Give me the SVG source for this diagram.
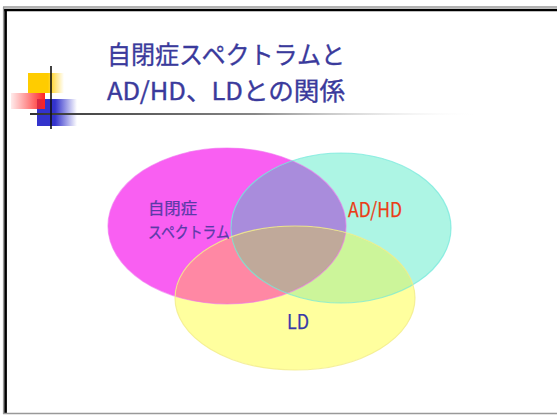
<svg xmlns="http://www.w3.org/2000/svg" width="557" height="415" viewBox="0 0 557 415">
  <style>
    .title { font-family: "Noto Sans CJK JP", "Noto Sans", sans-serif; font-size: 24.5px; fill: #3a3a9c; stroke: #3a3a9c; stroke-width: 0.35; }
    .lbl { font-family: "Noto Sans CJK JP", "Noto Sans", sans-serif; stroke-width: 0.25; }
    .edge { fill: none; stroke-width: 1.2; }
  </style>
  <defs>
    <linearGradient id="gYellow" x1="0" y1="0" x2="1" y2="0">
      <stop offset="0" stop-color="#ffcc00"/>
      <stop offset="0.55" stop-color="#ffcc00"/>
      <stop offset="1" stop-color="#ffcc00" stop-opacity="0"/>
    </linearGradient>
    <linearGradient id="gRed" x1="0" y1="0" x2="1" y2="0">
      <stop offset="0" stop-color="#ff3333" stop-opacity="0.1"/>
      <stop offset="1" stop-color="#ff2222"/>
    </linearGradient>
    <linearGradient id="gBlue" x1="0" y1="0" x2="1" y2="0">
      <stop offset="0" stop-color="#3333cc"/>
      <stop offset="0.45" stop-color="#3333cc"/>
      <stop offset="1" stop-color="#3333cc" stop-opacity="0"/>
    </linearGradient>
    <linearGradient id="gLine" x1="0" y1="0" x2="1" y2="0">
      <stop offset="0" stop-color="#333333"/>
      <stop offset="0.5" stop-color="#888888"/>
      <stop offset="1" stop-color="#ffffff" stop-opacity="0"/>
    </linearGradient>
    <clipPath id="cM"><ellipse cx="227" cy="226" rx="119" ry="78"/></clipPath>
    <clipPath id="cC"><ellipse cx="341" cy="228" rx="110" ry="75"/></clipPath>
  </defs>

  <rect width="557" height="415" fill="#ffffff"/>

  <!-- frame -->
  <g id="frame">
    <line x1="3" y1="7" x2="557" y2="7" stroke="#999999" stroke-width="1.4"/>
    <line x1="3.6" y1="7" x2="3.6" y2="414" stroke="#999999" stroke-width="1.4"/>
    <line x1="4.3" y1="10" x2="557" y2="10" stroke="#000000" stroke-width="2.6"/>
    <line x1="5.6" y1="9" x2="5.6" y2="413" stroke="#000000" stroke-width="2.6"/>
    <line x1="3" y1="413.4" x2="557" y2="413.4" stroke="#999999" stroke-width="1.5"/>
  </g>

  <!-- decoration -->
  <g id="decoration">
    <rect x="28" y="73" width="36" height="20" fill="url(#gYellow)"/>
    <rect x="37" y="99" width="40" height="27" fill="url(#gBlue)"/>
    <rect x="11" y="93" width="34" height="16" fill="url(#gRed)"/>
    <rect x="30" y="113" width="450" height="2" fill="url(#gLine)"/>
    <line x1="51" y1="66" x2="51" y2="129" stroke="#111111" stroke-width="1.6"/>
  </g>

  <!-- title -->
  <g id="title">
    <text class="title" x="107" y="64" textLength="238" lengthAdjust="spacingAndGlyphs">自閉症スペクトラムと</text>
    <text class="title" x="107" y="100" textLength="238" lengthAdjust="spacingAndGlyphs">AD/HD、LDとの関係</text>
  </g>

  <!-- venn -->
  <g id="node-autism">
    <ellipse cx="227" cy="226" rx="119" ry="78" fill="#f95ff2"/>
  </g>
  <g id="node-adhd">
    <ellipse cx="341" cy="228" rx="110" ry="75" fill="#adf5e4"/>
    <ellipse cx="341" cy="228" rx="110" ry="75" fill="#a98cdc" clip-path="url(#cM)"/>
  </g>
  <g id="node-ld">
    <ellipse cx="295" cy="298" rx="120" ry="72" fill="#ffff9e"/>
    <ellipse cx="295" cy="298" rx="120" ry="72" fill="#ff88a4" clip-path="url(#cM)"/>
    <ellipse cx="295" cy="298" rx="120" ry="72" fill="#ccf59a" clip-path="url(#cC)"/>
    <g clip-path="url(#cC)">
      <ellipse cx="295" cy="298" rx="120" ry="72" fill="#c0a99a" clip-path="url(#cM)"/>
    </g>
  </g>
  <g id="edges">
    <ellipse class="edge" cx="227" cy="226" rx="119" ry="78" stroke="#f070ee" stroke-opacity="0.6"/>
    <ellipse class="edge" cx="341" cy="228" rx="110" ry="75" stroke="#70e8dc" stroke-opacity="0.7"/>
    <ellipse class="edge" cx="295" cy="298" rx="120" ry="72" stroke="#f2ec88" stroke-opacity="0.8"/>
  </g>

  <g id="labels">
    <text class="lbl" x="148" y="214" font-size="15.5" fill="#5a3aa8" stroke="#5a3aa8" textLength="49" lengthAdjust="spacingAndGlyphs">自閉症</text>
    <text class="lbl" x="148" y="238" font-size="15.5" fill="#5a3aa8" stroke="#5a3aa8" textLength="82" lengthAdjust="spacingAndGlyphs">スペクトラム</text>
    <text class="lbl" x="348" y="217" font-size="20" fill="#ea3d16" stroke="#ea3d16" textLength="54" lengthAdjust="spacingAndGlyphs">AD/HD</text>
    <text class="lbl" x="287" y="329" font-size="20" fill="#3838a8" stroke="#3838a8" textLength="22" lengthAdjust="spacingAndGlyphs">LD</text>
  </g>
</svg>
